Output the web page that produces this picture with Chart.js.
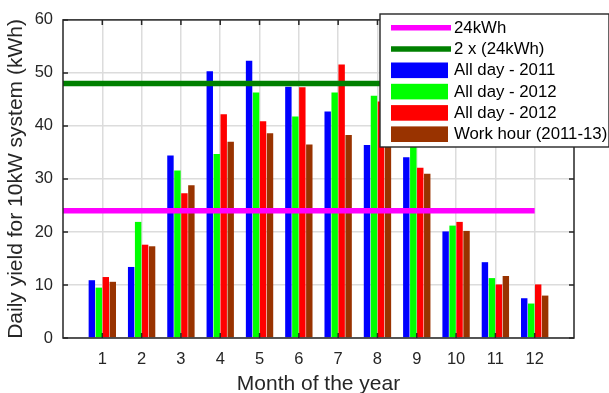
<!DOCTYPE html>
<html>
<head>
<meta charset="utf-8">
<script src="https://cdn.jsdelivr.net/npm/chart.js@4/dist/chart.umd.min.js"></script>
<style>
  html, body { margin: 0; padding: 0; background: #fff; }
  #wrap { width: 609px; height: 393px; }
</style>
</head>
<body>
<div id="wrap"><canvas id="chart"></canvas></div>
<script>
const months = [1, 2, 3, 4, 5, 6, 7, 8, 9, 10, 11, 12];
const allDay2011 = [10.9, 13.4, 34.4, 50.3, 52.3, 47.4, 42.7, 36.4, 34.1, 20.1, 14.3, 7.5];
const allDay2012a = [9.5, 21.9, 31.6, 34.7, 46.3, 41.8, 46.3, 45.7, 37.0, 21.2, 11.3, 6.5];
const allDay2012b = [11.5, 17.6, 27.3, 42.2, 40.9, 47.3, 51.6, 44.6, 32.1, 21.9, 10.1, 10.1];
const workHour = [10.6, 17.3, 28.8, 37.0, 38.6, 36.5, 38.3, 37.5, 31.0, 20.2, 11.7, 8.0];
const target = 24;
const lineSpan = [0, 12];
const yTicks = [0, 10, 20, 30, 40, 50, 60];

const FONT = '"Liberation Sans", Arial, Helvetica, sans-serif';
const AXIS = '#262626';

const toPoints = vals => months.map((m, i) => ({ x: m, y: vals[i] }));
const flat = v => lineSpan.map(x => ({ x: x, y: v }));

function barSet(label, vals, color) {
  return {
    type: 'bar', label: label, data: toPoints(vals),
    backgroundColor: color, borderWidth: 0,
    barPercentage: 0.92, categoryPercentage: 0.71, order: 1
  };
}
function lineSet(label, v, color) {
  return {
    type: 'line', label: label, data: flat(v),
    borderColor: color, borderWidth: 5.5, pointRadius: 0,
    borderCapStyle: 'butt', fill: false, order: 0
  };
}

// box, inward ticks and the boxed legend in the upper right
const boxPlugin = {
  id: 'boxPlugin',
  afterDatasetsDraw(chart) {
    const { ctx, chartArea: a, scales } = chart;
    ctx.save();
    ctx.strokeStyle = AXIS;
    ctx.lineWidth = 1.5;
    const tl = 5;
    ctx.beginPath();
    yTicks.forEach(v => {
      const y = scales.y.getPixelForValue(v);
      ctx.moveTo(a.left, y); ctx.lineTo(a.left + tl, y);
      ctx.moveTo(a.right, y); ctx.lineTo(a.right - tl, y);
    });
    months.forEach(m => {
      const x = scales.x.getPixelForValue(m);
      ctx.moveTo(x, a.bottom); ctx.lineTo(x, a.bottom - tl);
      ctx.moveTo(x, a.top); ctx.lineTo(x, a.top + tl);
    });
    ctx.stroke();
    ctx.strokeRect(a.left, a.top, a.right - a.left, a.bottom - a.top);

    // legend
    const lx = 380, ly = 14, lw = 229, lh = 133;
    ctx.fillStyle = '#fff';
    ctx.fillRect(lx, ly, lw, lh);
    ctx.lineWidth = 1.4;
    ctx.strokeRect(lx, ly, lw, lh);
    ctx.font = '16.8px ' + FONT;
    ctx.textBaseline = 'middle';
    ctx.textAlign = 'left';
    chart.data.datasets.forEach((ds, i) => {
      const cy = 27.7 + i * 21.3;
      if (ds.type === 'line') {
        ctx.strokeStyle = ds.borderColor;
        ctx.lineWidth = 5.5;
        ctx.beginPath();
        ctx.moveTo(391, cy); ctx.lineTo(451, cy);
        ctx.stroke();
      } else {
        ctx.fillStyle = ds.backgroundColor;
        ctx.fillRect(391, cy - 7.8, 57, 15.6);
      }
      ctx.fillStyle = '#000';
      ctx.fillText(ds.label, 454, cy + 0.5);
    });
    ctx.restore();
  }
};

new Chart(document.getElementById('chart'), {
  data: {
    datasets: [
      lineSet('24kWh', target, '#ff00ff'),
      lineSet('2 x (24kWh)', 2 * target, '#008000'),
      barSet('All day - 2011', allDay2011, '#0000ff'),
      barSet('All day - 2012', allDay2012a, '#00ff00'),
      barSet('All day - 2012', allDay2012b, '#ff0000'),
      barSet('Work hour (2011-13)', workHour, '#993300')
    ]
  },
  options: {
    responsive: true,
    maintainAspectRatio: false,
    animation: false,
    layout: { padding: { left: 0, right: 35, top: 15, bottom: 0 } },
    plugins: { legend: { display: false }, tooltip: { enabled: false } },
    scales: {
      x: {
        type: 'linear', min: 0, max: 13, offset: false,
        afterBuildTicks: s => { s.ticks = months.map(m => ({ value: m })); },
        afterFit: s => { s.height = 55; },
        grid: { color: '#dcdcdc', lineWidth: 1.5, drawTicks: false, offset: false },
        border: { display: false },
        ticks: { color: AXIS, font: { family: FONT, size: 16.5 }, padding: 12, maxRotation: 0, autoSkip: false },
        title: { display: true, text: 'Month of the year', color: AXIS, font: { family: FONT, size: 21 }, padding: { top: 0, bottom: -4 } }
      },
      y: {
        min: 0, max: 60,
        afterBuildTicks: s => { s.ticks = yTicks.map(v => ({ value: v })); },
        afterFit: s => { s.width = 63; },
        grid: { color: '#dcdcdc', lineWidth: 1.5, drawTicks: false },
        border: { display: false },
        ticks: { color: AXIS, font: { family: FONT, size: 16.5 }, padding: 10 },
        title: { display: true, text: 'Daily yield for 10kW system (kWh)', color: AXIS, font: { family: FONT, size: 21 }, padding: { top: 4, bottom: 0 } }
      }
    }
  },
  plugins: [boxPlugin]
});
</script>
</body>
</html>
